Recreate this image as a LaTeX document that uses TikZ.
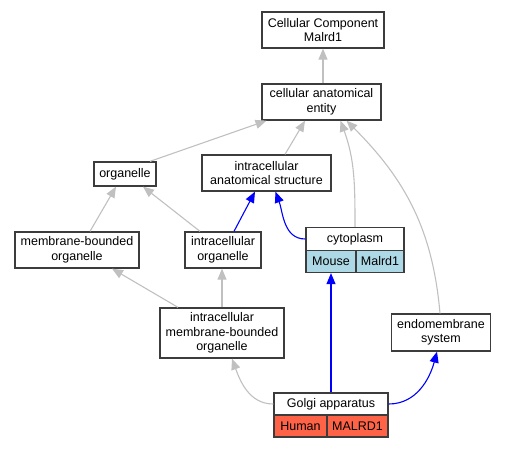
\documentclass[tikz,border=0pt]{standalone}
\usepackage{fontspec}
\setmainfont{Liberation Sans}
\usetikzlibrary{arrows.meta}
\definecolor{isagray}{RGB}{192,192,192}
\definecolor{boxline}{RGB}{60,60,60}
\definecolor{mouseblue}{RGB}{173,216,230}
\definecolor{humanred}{RGB}{255,99,71}

\begin{document}
\begin{tikzpicture}[x=1pt,y=1pt,yscale=-1,xscale=1,
    term/.style={draw=boxline,line width=1.3pt,fill=white,inner sep=0pt,align=center,
        font=\fontsize{12.5}{14.5}\selectfont},
    cell/.style={term,minimum height=22pt},
    isa/.style={draw=isagray,line width=1.1pt,-{Triangle[length=11pt,width=9pt]}},
    partof/.style={draw=blue,line width=1.1pt,-{Triangle[length=11pt,width=9pt]}}]
        \useasboundingbox (0,0) rectangle (507,448);

        % Term Nodes
        \node [term,minimum width=122pt,minimum height=36pt] (cc) at (323,30) {Cellular Component\\Malrd1};
        \node [term,minimum width=119pt,minimum height=36pt] (cae) at (321.5,102) {cellular anatomical\\entity};
        \node [term,minimum width=62pt,minimum height=24pt] (org) at (125,174) {organelle};
        \node [term,minimum width=129pt,minimum height=36pt] (ias) at (266.5,173) {intracellular\\anatomical structure};
        \node [term,minimum width=124pt,minimum height=36pt] (mbo) at (77,250) {membrane-bounded\\organelle};
        \node [term,minimum width=76pt,minimum height=36pt] (io) at (223,250) {intracellular\\organelle};
        \node [term,minimum width=124pt,minimum height=50pt] (imbo) at (222,333) {intracellular\\membrane-bounded\\organelle};
        \node [term,minimum width=99pt,minimum height=37pt] (endo) at (441,332.5) {endomembrane\\system};

        % Annotated Nodes
        \node [cell,minimum width=98pt,minimum height=23pt] (cyto) at (355,239) {cytoplasm};
        \node [cell,fill=mouseblue,minimum width=50pt] (mouse) at (331,261.5) {Mouse};
        \node [cell,fill=mouseblue,minimum width=48pt] (malrd) at (380,261.5) {Malrd1};
        \node [cell,minimum width=114pt] (golgi) at (331,404) {Golgi apparatus};
        \node [cell,fill=humanred,minimum width=53pt] (human) at (300.5,426) {Human};
        \node [cell,fill=humanred,minimum width=61pt] (malrdh) at (357.5,426) {MALRD1};

        % Gray Edges
        \draw [isa] ([xshift=1.5pt]cae.north) -- (cc.south);
        \draw [isa] ([xshift=25pt]org.north) -- ([xshift=-55pt]cae.south);
        \draw [isa] ([xshift=18.5pt]ias.north) -- ([xshift=-16.5pt]cae.south);
        \draw [isa] (cyto.north) to[out=-90,in=70] ([xshift=19pt]cae.south);
        \draw [isa] ([xshift=-1pt]endo.north) to[out=-95,in=45] ([xshift=25pt]cae.south);
        \draw [isa] ([xshift=13pt]mbo.north) -- ([xshift=-9pt]org.south);
        \draw [isa] ([xshift=-23pt]io.north) -- ([xshift=18pt]org.south);
        \draw [isa] ([xshift=-44pt]imbo.north) -- ([xshift=35pt]mbo.south);
        \draw [isa] (imbo.north) -- ([xshift=-1pt]io.south);
        \draw [isa] (golgi.west) to[out=180,in=70] ([xshift=10pt]imbo.south);

        % Blue Edges
        \draw [partof] ([xshift=11pt]io.north) -- ([xshift=-11.5pt]ias.south);
        \draw [partof] (cyto.west) to[out=180,in=70] ([xshift=9pt]ias.south);
        \draw [partof] (golgi.north) -- (mouse.south);
        \draw [partof] (golgi.east) to[out=0,in=105] ([xshift=-4pt]endo.south);

\end{tikzpicture}
\end{document}
